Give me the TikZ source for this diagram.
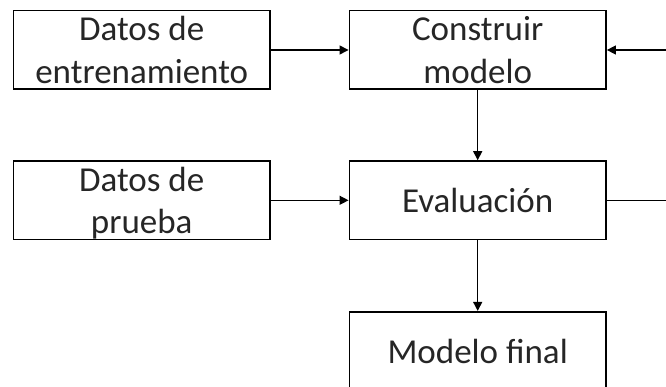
\documentclass[tikz,border=0pt]{standalone}
\usepackage{fontspec}
\setmainfont{Carlito}
\usetikzlibrary{positioning, arrows.meta}
\definecolor{boxtext}{RGB}{38,38,38}

\begin{document}
\begin{tikzpicture}[x=1pt, y=-1pt,
    bloque/.style={draw=black, line width=1.6pt, minimum width=256.7pt, minimum height=78.6pt, inner sep=0pt, align=center, text=boxtext, text depth=0pt, font=\fontsize{35}{42.7}\selectfont},
    flecha/.style={line width=1.3pt, -{Triangle[length=9pt, width=9pt]}}]
        % marco
        \useasboundingbox (0,0) rectangle (666,387);
        \clip (0,0) rectangle (666,387);
        \fill[white] (0,0) rectangle (666,387);

        % bloques
        \node[bloque] (datosent) at (141.7,50) {Datos de\\entrenamiento};
        \node[bloque] (construir) at (477.7,50) {Construir\\modelo};
        \node[bloque] (datosprueba) at (141.7,200.3) {Datos de\\prueba};
        \node[bloque] (evaluacion) at (477.7,200.3) {Evaluación};
        \node[bloque] (final) at (477.7,351) {Modelo final};

        % flechas
        \draw[flecha] (datosent.east) -- (construir.west);
        \draw[flecha] (datosprueba.east) -- (evaluacion.west);
        \draw[flecha] (construir.south) -- (evaluacion.north);
        \draw[flecha] (evaluacion.south) -- (final.north);
        % retorno
        \draw[flecha] (evaluacion.east) -- ++(80,0) |- (construir.east);
\end{tikzpicture}
\end{document}
